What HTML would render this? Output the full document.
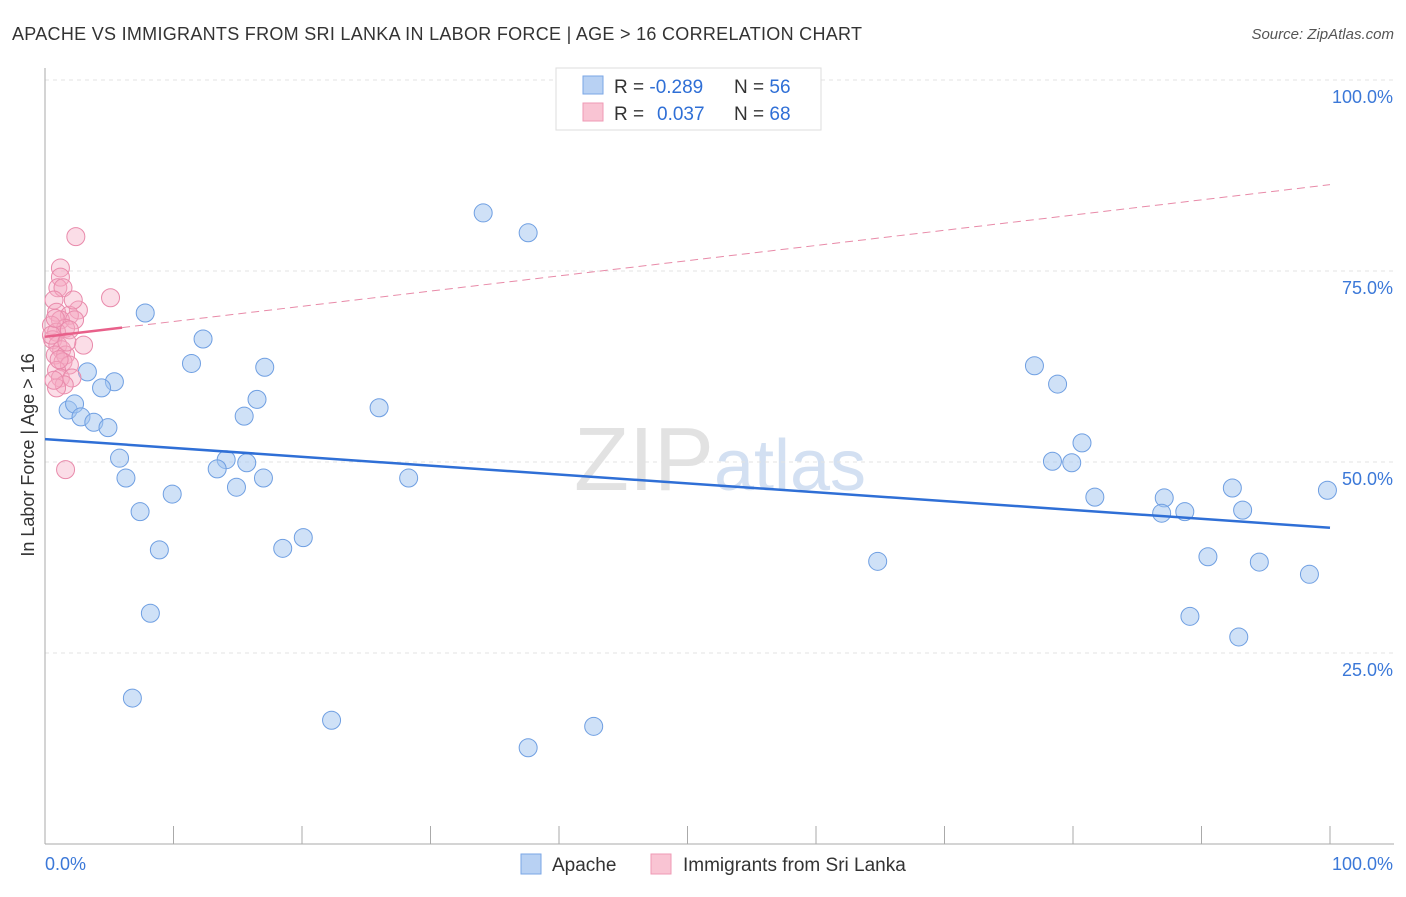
<!DOCTYPE html>
<html><head><meta charset="utf-8"><style>
body{margin:0;background:#fff;font-family:"Liberation Sans",sans-serif;}
svg text{font-family:"Liberation Sans",sans-serif;}
</style></head><body>
<svg width="1406" height="892" id="chart">
<text x="12" y="40" font-size="18" fill="#333" textLength="850">APACHE VS IMMIGRANTS FROM SRI LANKA IN LABOR FORCE | AGE &gt; 16 CORRELATION CHART</text>
<text x="1394" y="39" font-size="15" fill="#555" font-style="italic" text-anchor="end">Source: ZipAtlas.com</text>
<text x="720" y="490" font-size="90" fill="#e2e2e2" text-anchor="middle" font-family="Liberation Serif">ZIP<tspan fill="#d3e0f2" font-family="Liberation Sans" font-size="72">atlas</tspan></text>
<text transform="translate(34,455) rotate(-90)" font-size="18" fill="#333" text-anchor="middle">In Labor Force | Age &gt; 16</text>
<g id="grid"></g><g id="marks"></g>
<g>
<rect x="556" y="68" width="265" height="62" fill="#fff" stroke="#ddd"/>
<rect x="583" y="76" width="20" height="18" fill="#b8d1f3" stroke="#7aa6e6"/>
<rect x="583" y="103" width="20" height="18" fill="#f9c4d3" stroke="#ef9ab5"/>
<text x="614" y="93" font-size="19" fill="#333">R = <tspan fill="#2f6fd6">-0.289</tspan><tspan x="734">N = </tspan><tspan fill="#2f6fd6">56</tspan></text>
<text x="614" y="120" font-size="19" fill="#333">R = <tspan x="657" fill="#2f6fd6">0.037</tspan><tspan x="734">N = </tspan><tspan fill="#2f6fd6">68</tspan></text>
</g>
<g>
<rect x="521" y="854" width="20" height="20" fill="#b8d1f3" stroke="#7aa6e6"/>
<text x="552" y="871" font-size="19" fill="#333">Apache</text>
<rect x="651" y="854" width="20" height="20" fill="#f9c4d3" stroke="#ef9ab5"/>
<text x="683" y="871" font-size="19" fill="#333">Immigrants from Sri Lanka</text>
</g>
</svg>
<script>
const yTicks=[100,75,50,25];
const yTickLabels=["100.0%","75.0%","50.0%","25.0%"];
const xTicks=[0,10,20,30,40,50,60,70,80,90,100];
const apacheX=[34.1,37.6,7.8,12.3,11.4,17.1,3.3,5.4,4.4,16.5,15.5,26.0,1.8,2.3,2.8,3.8,4.9,5.8,14.1,15.7,13.4,6.3,14.9,17.0,28.3,9.9,7.4,8.9,18.5,20.1,8.2,6.8,22.3,37.6,42.7,64.8,77.0,78.8,80.7,78.4,79.9,81.7,87.1,86.9,88.7,92.4,93.2,99.8,90.5,94.5,98.4,89.1,92.9];
const apacheY=[82.6,80.0,69.5,66.1,62.9,62.4,61.8,60.5,59.7,58.2,56.0,57.1,56.8,57.6,55.9,55.2,54.5,50.5,50.3,49.9,49.1,47.9,46.7,47.9,47.9,45.8,43.5,38.5,38.7,40.1,30.2,19.1,16.2,12.6,15.4,37.0,62.6,60.2,52.5,50.1,49.9,45.4,45.3,43.3,43.5,46.6,43.7,46.3,37.6,36.9,35.3,29.8,27.1];
const lankaX=[2.4,1.2,1.2,1.0,1.4,0.7,5.1,2.6,0.9,1.9,1.2,2.3,0.5,1.6,0.9,1.9,0.6,1.0,3.0,1.3,0.8,1.6,1.4,1.9,0.9,1.2,2.1,1.5,0.9,1.6,0.7,1.1,0.5,1.7,2.2,0.8];
const lankaY=[79.5,75.4,74.2,72.8,72.8,71.2,71.5,69.9,69.6,69.2,68.6,68.6,67.9,67.5,67.0,67.3,66.0,65.3,65.3,64.7,64.0,64.0,63.1,62.7,62.0,61.0,61.0,60.1,59.7,49.0,60.7,63.4,66.6,65.7,71.2,68.8];
const apacheTrend=[53.0,41.4];
const lankaTrend=[66.4,86.3];
const X=v=>45+v*12.85, Y=v=>844-v*7.64;
const NS="http://www.w3.org/2000/svg";
const grid=document.getElementById('grid'), marks=document.getElementById('marks');
function mk(tag,attrs,parent){const e=document.createElementNS(NS,tag);for(const k in attrs)e.setAttribute(k,attrs[k]);parent.appendChild(e);return e;}
yTicks.forEach((t,i)=>{
 const l=mk('line',{x1:45,x2:1394,y1:Y(t),y2:Y(t),stroke:'#e3e3e3','stroke-dasharray':'4,4'},grid);
 
 
 const tx=mk('text',{x:1393,y:Y(t)+23,'font-size':18,fill:'#3b78d8','text-anchor':'end'},grid);
 tx.textContent=yTickLabels[i];
 
 
});
const ya=mk('line',{x1:45,x2:45,y1:68,y2:844,stroke:'#aaa'},grid);


const xa=mk('line',{x1:45,x2:1394,y1:844,y2:844,stroke:'#aaa'},grid);


xTicks.forEach(t=>{
 const l=mk('line',{x1:X(t),x2:X(t),y1:826,y2:844,stroke:'#aaa'},grid);
 
 
});
const xl0=mk('text',{x:45,y:870,'font-size':18,fill:'#3b78d8'},grid);xl0.textContent='0.0%';


const xl1=mk('text',{x:1393,y:870,'font-size':18,fill:'#3b78d8','text-anchor':'end'},grid);xl1.textContent='100.0%';


apacheX.forEach((x,i)=>{
 const c=mk('circle',{cx:X(x),cy:Y(apacheY[i]),r:9,fill:'rgba(160,195,240,0.5)',stroke:'#6f9fe2','stroke-width':1},marks);
 
 
});
lankaX.forEach((x,i)=>{
 const c=mk('circle',{cx:X(x),cy:Y(lankaY[i]),r:9,fill:'rgba(245,170,195,0.4)',stroke:'#e98aab','stroke-width':1},marks);
 
 
});
const bt=mk('line',{x1:X(0),x2:X(100),y1:Y(apacheTrend[0]),y2:Y(apacheTrend[1]),stroke:'#2f6fd6','stroke-width':2.5},marks);


const ly=v=>lankaTrend[0]+(lankaTrend[1]-lankaTrend[0])*v/100;
const pd=mk('line',{x1:X(6),x2:X(100),y1:Y(ly(6)),y2:Y(ly(100)),stroke:'#e88aa8','stroke-width':1,'stroke-dasharray':'8,5'},marks);


const ps=mk('line',{x1:X(0),x2:X(6),y1:Y(ly(0)),y2:Y(ly(6)),stroke:'#e8608a','stroke-width':2.5},marks);


</script>
</body></html>
